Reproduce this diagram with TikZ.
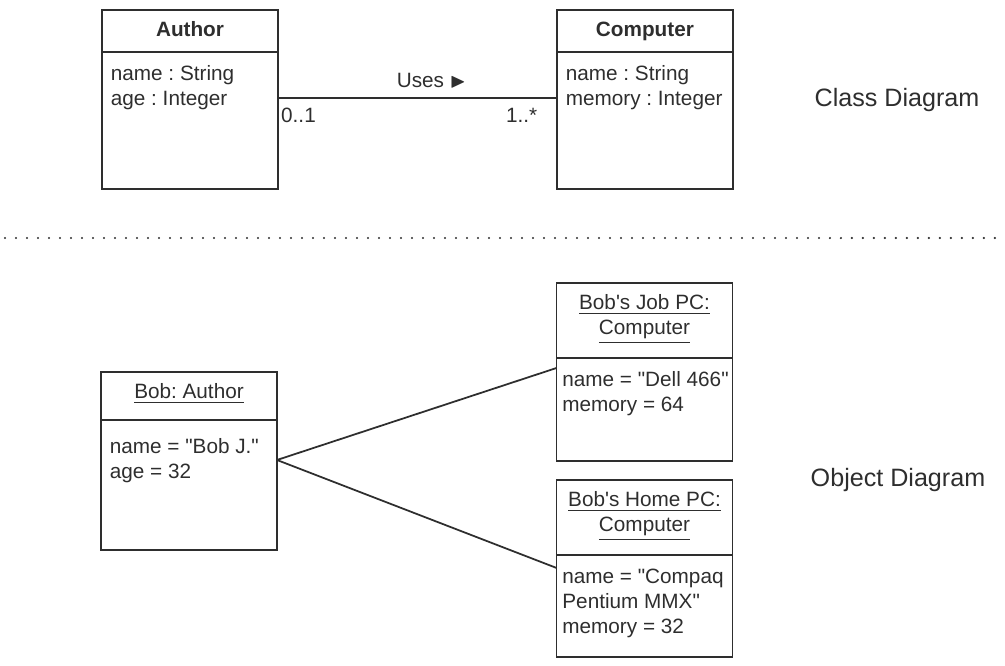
\documentclass[tikz,border=0pt]{standalone}
\usepackage{fontspec}
\setmainfont{Liberation Sans}
\usepackage{amssymb}
\usetikzlibrary{positioning}

\definecolor{ink}{gray}{0.18}
\frenchspacing

\begin{document}
\begin{tikzpicture}[
            x = 0.02cm, y = -0.02cm, % one unit is one pixel of the page
            line width = 1pt, % line style
            draw = ink, text = ink,
            font = \fontsize{11.8}{14.2}\selectfont,
            node distance = 0pt % boxes stack without a gap
        ]

        \tikzstyle{head}=[
            draw,
            minimum width = 3.52cm,
            inner sep = 0pt,
            outer sep = 0pt
        ]
        \tikzstyle{body}=[head]
        \tikzstyle{title}=[anchor = north, align = center, inner sep = 0pt, yshift = -0.22cm]
        \tikzstyle{attr}=[anchor = north west, align = left, inner sep = 0pt, xshift = 0.16cm, yshift = -0.26cm]
        \tikzstyle{caption}=[font = \fontsize{14.3}{17}\selectfont]

	\useasboundingbox (0,0) rectangle (1005,666);

	% class diagram
	\node[head, minimum height = 0.84cm] (author) at (190,31) {};
	\node[title] (authortitle) at (author.north) {\textbf{Author}};
	\node[body, minimum height = 2.74cm] (authorbody) [below=of author] {};
	\node[attr] (authorattr) at (authorbody.north west) {name : String\\age : Integer};

	\node[head, minimum height = 0.84cm] (comp) [right=5.58cm of author] {};
	\node[title] (comptitle) at (comp.north) {\textbf{Computer}};
	\node[body, minimum height = 2.74cm] (compbody) [below=of comp] {};
	\node[attr] (compattr) at (compbody.north west) {name : String\\memory : Integer};

	\coordinate (usesl) at ([yshift=-0.92cm]authorbody.north east);
	\coordinate (usesr) at ([yshift=-0.92cm]compbody.north west);
	\draw (usesl) -- node[above, pos = 0.55, yshift = 2pt] {Uses $\blacktriangleright$}
		node[below right, pos = 0, yshift = -2pt, xshift = -2pt] {0..1}
		node[below left, pos = 1, yshift = -2pt, xshift = -0.26cm] {1..*} (usesr);

	\node[caption] (classlabel) at (897,100) {Class Diagram};

	% separator
	\coordinate (sepl) at (5,238);
	\coordinate (sepr) at (1005,238);
	\draw[line width = 1.3pt, line cap = round, dash pattern = on 0pt off 6.26pt] (sepl) -- (sepr);

	% object diagram
	\node[head, minimum height = 0.96cm] (bob) at (189,396) {};
	\node[title] (bobtitle) at (bob.north) {\underline{Bob: Author}};
	\node[body, minimum height = 2.6cm] (bobbody) [below=of bob] {};
	\node[attr, yshift = -0.1cm] (bobattr) at (bobbody.north west) {name = \textquotedbl Bob J.\textquotedbl\\age = 32};

	\node[head, minimum height = 1.5cm] (job) at (644.5,320.5) {};
	\node[title] (jobtitle) at (job.north) {\underline{Bob\textquotesingle s Job PC:}\\\underline{Computer}};
	\node[body, minimum height = 2.06cm] (jobbody) [below=of job] {};
	\node[attr, xshift = -0.06cm] (jobattr) at (jobbody.north west) {name = \textquotedbl Dell 466\textquotedbl\\memory = 64};

	\node[head, minimum height = 1.5cm] (home) [below=0.38cm of jobbody] {};
	\node[title] (hometitle) at (home.north) {\underline{Bob\textquotesingle s Home PC:}\\\underline{Computer}};
	\node[body, minimum height = 2.04cm] (homebody) [below=of home] {};
	\node[attr, xshift = -0.06cm] (homeattr) at (homebody.north west) {name = \textquotedbl Compaq\\Pentium MMX\textquotedbl\\memory = 32};

	\coordinate (bobend) at ([yshift=-0.8cm]bobbody.north east);
	\coordinate (jobend) at ([yshift=-0.2cm]jobbody.north west);
	\coordinate (homeend) at ([yshift=-0.26cm]homebody.north west);
	\draw (bobend) -- (jobend);
	\draw (bobend) -- (homeend);

	\node[caption] (objlabel) at (898,480) {Object Diagram};

    \end{tikzpicture}
\end{document}
